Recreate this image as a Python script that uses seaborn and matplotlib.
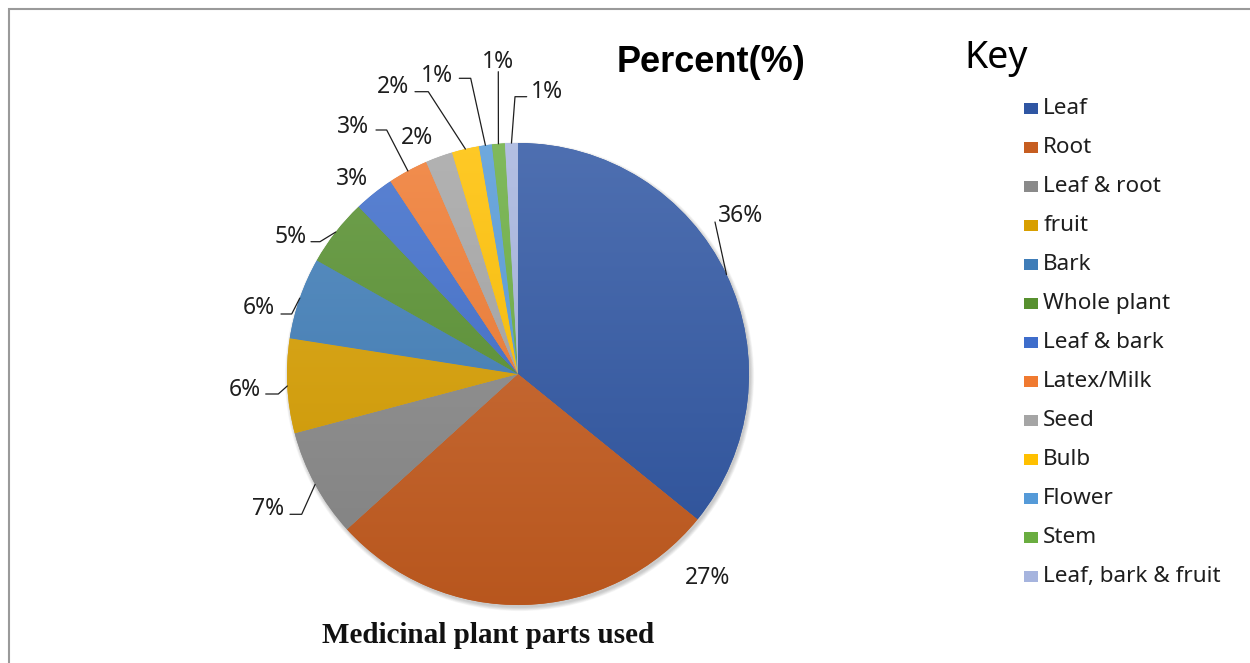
import numpy as np
import matplotlib
matplotlib.use("Agg")
import matplotlib.pyplot as plt
from matplotlib.patches import Rectangle, Circle
import matplotlib.colors as mcolors
import seaborn as sns

# ---------------- data ----------------
categories = ["Leaf", "Root", "Leaf & root", "fruit", "Bark", "Whole plant",
              "Leaf & bark", "Latex/Milk", "Seed", "Bulb", "Flower", "Stem",
              "Leaf, bark & fruit"]
# slice shares (%)
shares = [35.8, 27.4, 7.6, 6.6, 5.7, 4.7, 2.8, 2.8, 1.9, 1.9, 0.9, 0.9, 0.9]
# data labels as printed on the chart
pct_labels = ["36%", "27%", "7%", "6%", "6%", "5%", "3%", "3%", "2%", "2%",
              "1%", "1%", "1%"]
hex_colors = ["#2F56A3", "#C65D20", "#8A8A8A", "#D89F00", "#3F7DB8", "#57902F",
              "#3E6DCB", "#F07A30", "#A5A5A5", "#FFC000", "#559AD8", "#6AAD40",
              "#A6B4DE"]
title_text = "Percent(%)"
key_text = "Key"
bottom_text = "Medicinal plant parts used"

# ---------------- layout (pixel coords, y measured from top) ----------------
W, H = 1250, 663
CX, CY, R = 518, 374, 231
# (text centre x, text baseline y, leader start, leader elbow)
label_layout = [
    (741, 222.5, (715, 222), None),
    (708, 584, None, None),
    (268.5, 515, (290, 514.3), (301.7, 514.3)),
    (245, 395.5, (265.7, 394), (278.3, 394)),
    (258.5, 314, (281, 314), (291.7, 314)),
    (290.5, 243, (311, 241.7), (320, 241.7)),
    (351.7, 185, None, None),
    (353, 133, (376, 130), (386.7, 130)),
    (417, 144, None, None),
    (393, 93, (415, 91.7), (428.3, 91.7)),
    (437, 81.7, (459.3, 78.3), (470.7, 78.3)),
    (498, 68, (498.3, 71.7), None),
    (547, 98, (526.7, 96.7), (515, 96.7)),
]

def Y(y):
    return H - y

sns.set_theme(style="white")
plt.rcParams["font.family"] = ["Noto Sans", "DejaVu Sans"]
palette = sns.color_palette(hex_colors)

fig = plt.figure(figsize=(W / 100, H / 100), dpi=100)
fig.patch.set_facecolor("white")
ax = fig.add_axes([0, 0, 1, 1])

# soft shadow behind the pie
for k in range(7):
    ax.add_patch(Circle((CX + 1.5, Y(CY) - 2.5), R + 0.6 * k, facecolor="black",
                        edgecolor="none", alpha=0.03, zorder=0.5))

wedges, _ = ax.pie(shares, colors=palette, startangle=90, counterclock=False,
                   radius=R, center=(CX, Y(CY)),
                   wedgeprops=dict(linewidth=0, edgecolor="none"))

# vertical gradient over each wedge (lighter at top, darker at bottom)
n = 256
t = np.linspace(0, 1, n)[:, None]
for w, c in zip(wedges, palette):
    c = np.array(mcolors.to_rgb(c))
    top = c + (1 - c) * 0.15
    bot = c * 0.93
    grad = top[None, None, :] * (1 - t[:, :, None]) + bot[None, None, :] * t[:, :, None]
    grad = np.repeat(grad, 2, axis=1)
    im = ax.imshow(grad, extent=(CX - R, CX + R, Y(CY) - R, Y(CY) + R),
                   origin="upper", aspect="auto", zorder=w.get_zorder() + 0.1,
                   interpolation="bilinear")
    im.set_clip_path(w)

ax.set_xlim(0, W)
ax.set_ylim(0, H)
ax.set_aspect("auto")
ax.axis("off")

# data labels with leader lines
for w, txt, (tx, ty, start, elbow) in zip(wedges, pct_labels, label_layout):
    ax.text(tx, Y(ty), txt, ha="center", va="baseline", fontsize=16.5,
            color="#1E1E1E", zorder=5)
    if start is not None:
        mid = np.deg2rad((w.theta1 + w.theta2) / 2)
        rim = (CX + R * np.cos(mid), Y(CY) + R * np.sin(mid))
        pts = [start] + ([elbow] if elbow is not None else [])
        xs = [p[0] for p in pts] + [rim[0]]
        ys = [Y(p[1]) for p in pts] + [rim[1]]
        ax.plot(xs, ys, color="#1E1E1E", linewidth=0.9, zorder=5)

# titles
ax.text(711, Y(72), title_text, ha="center", va="baseline", fontsize=26,
        fontweight="bold", family="Liberation Sans", color="black")
ax.text(964, Y(68), key_text, ha="left", va="baseline", fontsize=27,
        color="black")
ax.text(488, Y(643), bottom_text, ha="center", va="baseline", fontsize=21,
        fontweight="bold", family="Liberation Serif", color="#111111")

# legend (key)
for i, (name, c) in enumerate(zip(categories, palette)):
    base = 114.3 + 39.0 * i
    ax.add_patch(Rectangle((1024, Y(base)), 14, 11, facecolor=c,
                           edgecolor="none", zorder=5))
    ax.text(1043.3, Y(base), name, ha="left", va="baseline", fontsize=16.2,
            color="#1E1E1E", zorder=5)

# outer frame (partially visible)
ax.add_patch(Rectangle((9, Y(H + 40)), W + 40, H + 40 - 9, facecolor="none",
                       edgecolor="#9A9A9A", linewidth=1.5, zorder=6,
                       clip_on=True))

fig.savefig("out.png", dpi=100, facecolor="white")
